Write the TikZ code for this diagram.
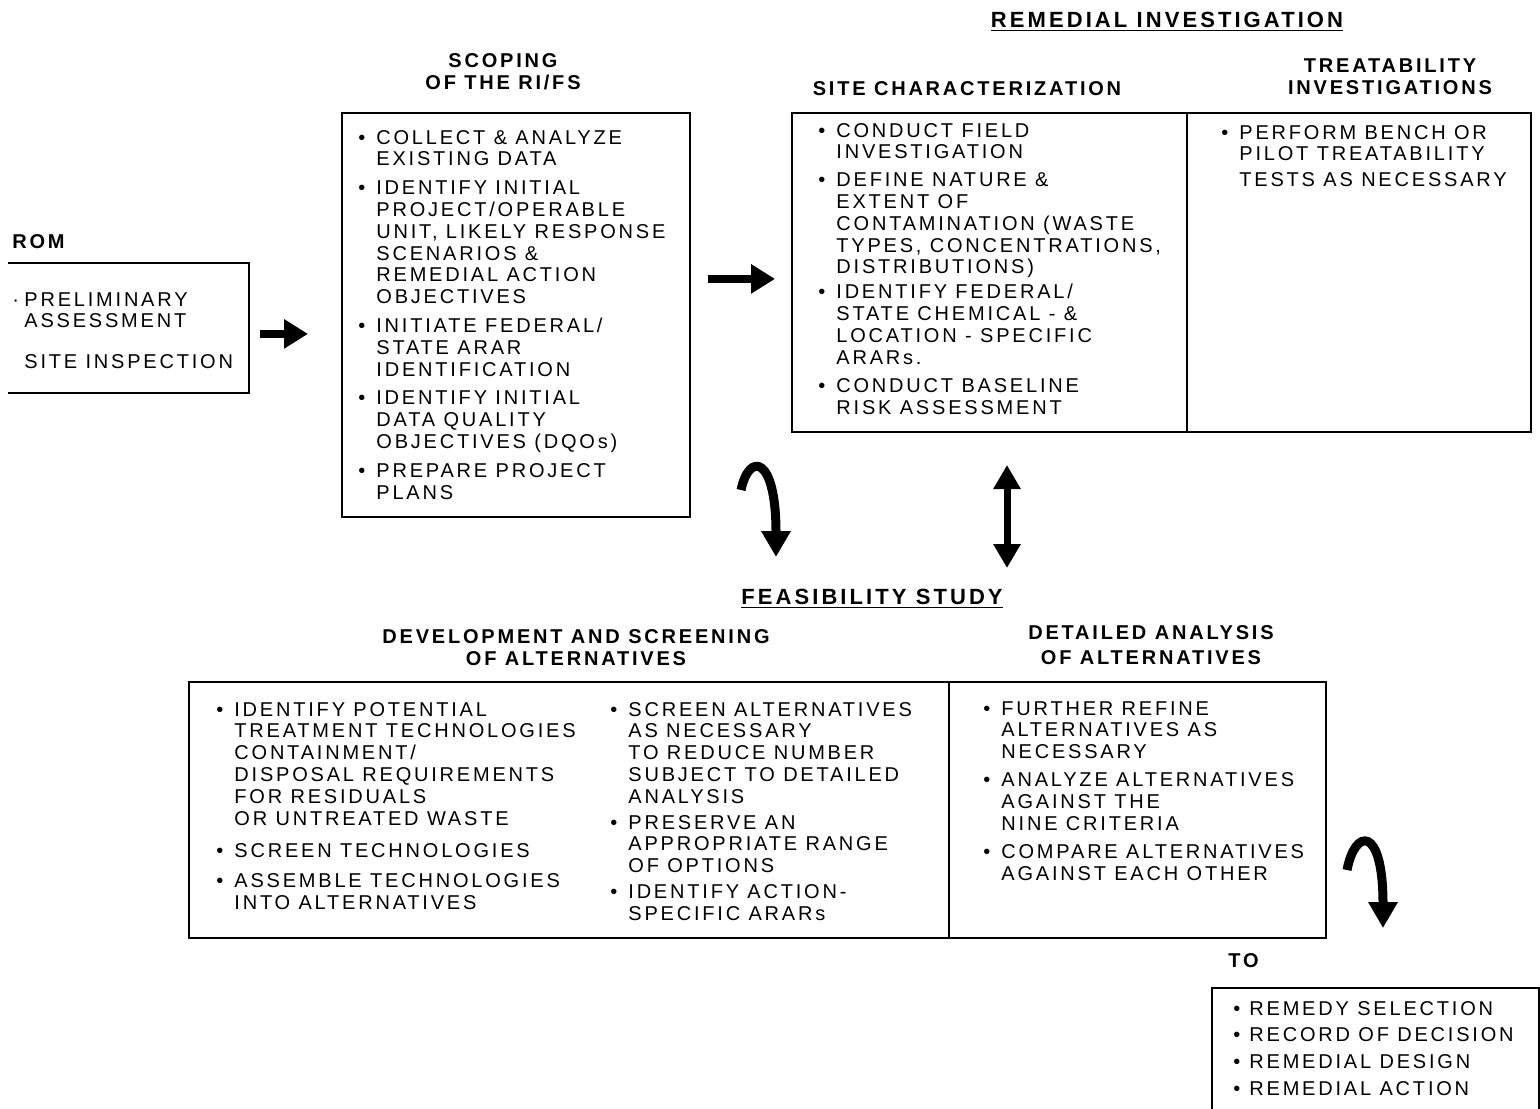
\documentclass[tikz,border=0pt]{standalone}
\usepackage{fontspec}
\setmainfont{Liberation Sans}[LetterSpace=14]
\usetikzlibrary{arrows.meta,calc}
\tikzset{>=Stealth}
\tikzset{
  box/.style={draw,line width=0.9pt,anchor=north west,inner sep=0pt},
  txt/.style={anchor=base west,inner sep=0pt,font=\fontsize{10}{10.9}\selectfont},
  hdr/.style={anchor=base,inner sep=0pt,font=\fontsize{10}{11}\selectfont\bfseries},
  fat/.style={line width=4pt,-{Triangle[length=12pt,width=14pt]}},
  hook/.style={line width=4.5pt,-{Triangle[length=13pt,width=14pt]}},
}
\newcommand*{\bu}{\makebox[9pt][l]{\textbullet}}
\newcommand{\lst}[1]{\begin{tabular}[t]{@{}l@{}l@{}}#1\end{tabular}}
\newcommand{\hd}[1]{\begin{tabular}[t]{@{}c@{}}#1\end{tabular}}

\begin{document}
\begin{tikzpicture}[x=0.5pt,y=-0.5pt]
\useasboundingbox (0,0) rectangle (1540,1108);
% headings
\node[hdr,font=\fontsize{11}{12}\selectfont\bfseries] (rihd) at (1167,27) {\underline{REMEDIAL INVESTIGATION}};
\node[hdr] (scopehd) at (503,67) {\hd{SCOPING\\OF THE RI/FS}};
\node[hdr] (sitehd) at (967,95) {SITE CHARACTERIZATION};
\node[hdr] (treathd) at (1390,72) {\hd{TREATABILITY\\INVESTIGATIONS}};
\node[hdr,anchor=base west] (romhd) at (12,248) {ROM};
\node[hdr,font=\fontsize{11}{12}\selectfont\bfseries] (fshd) at (872,604) {\underline{FEASIBILITY STUDY}};
\node[hdr] (devhd) at (576,643) {\hd{DEVELOPMENT AND SCREENING\\OF ALTERNATIVES}};
\node[hdr] (dethd) at (1151,639) {\hd{DETAILED ANALYSIS\\[1.5pt]OF ALTERNATIVES}};
\node[hdr,anchor=base west] (tohd) at (1228,967) {TO};
% boxes
\node[box,draw=none,minimum width=119.5pt,minimum height=64pt] (rom) at (8,263) {};
\draw[line width=0.9pt] (rom.north west) -- (rom.north east) -- (rom.south east) -- (rom.south west);
\node[box,minimum width=174pt,minimum height=202pt] (scope) at (341,112) {};
\node[box,minimum width=369.5pt,minimum height=159.5pt] (ri) at (791,112) {};
\draw[line width=0.9pt] ($(ri.north west)+(396,0)$) -- ($(ri.south west)+(396,0)$);
\node[box,minimum width=568.5pt,minimum height=128pt] (fs) at (188,681) {};
\draw[line width=0.9pt] ($(fs.north west)+(761,0)$) -- ($(fs.south west)+(761,0)$);
\node[box,draw=none,minimum width=162.5pt,minimum height=60pt] (to) at (1212,988) {};
\draw[line width=0.9pt] (to.south west) -- (to.north west) -- (to.north east) -- (to.south east);
% texts
\node[txt] (romtx) at (12,306) {\lst{\makebox[6pt][l]{\textperiodcentered} & PRELIMINARY\\ & ASSESSMENT\\[9.5pt] & SITE INSPECTION}};
\node[txt] (scopetx) at (358,144) {\lst{
\bu & COLLECT \& ANALYZE\\ & EXISTING DATA\\[3.5pt]
\bu & IDENTIFY INITIAL\\ & PROJECT/OPERABLE\\ & UNIT, LIKELY RESPONSE\\ & SCENARIOS \&\\ & REMEDIAL ACTION\\ & OBJECTIVES\\[3.5pt]
\bu & INITIATE FEDERAL/\\ & STATE ARAR\\ & IDENTIFICATION\\[3.5pt]
\bu & IDENTIFY INITIAL\\ & DATA QUALITY\\ & OBJECTIVES (DQOs)\\[3.5pt]
\bu & PREPARE PROJECT\\ & PLANS}};
\node[txt] (sitetx) at (818,137) {\lst{
\bu & CONDUCT FIELD\\ & INVESTIGATION\\[3pt]
\bu & DEFINE NATURE \&\\ & EXTENT OF\\ & CONTAMINATION (WASTE\\ & TYPES, CONCENTRATIONS,\\ & DISTRIBUTIONS)\\[1.5pt]
\bu & IDENTIFY FEDERAL/\\ & STATE CHEMICAL - \&\\ & LOCATION - SPECIFIC\\ & ARARs.\\[3.5pt]
\bu & CONDUCT BASELINE\\ & RISK ASSESSMENT}};
\node[txt] (treattx) at (1221,139) {\lst{
\bu & PERFORM BENCH OR\\ & PILOT TREATABILITY\\[2pt] & TESTS AS NECESSARY}};
\node[txt] (devtxa) at (216,716) {\lst{
\bu & IDENTIFY POTENTIAL\\ & TREATMENT TECHNOLOGIES\\ & CONTAINMENT/\\ & DISPOSAL REQUIREMENTS\\ & FOR RESIDUALS\\ & OR UNTREATED WASTE\\[5.5pt]
\bu & SCREEN TECHNOLOGIES\\[4pt]
\bu & ASSEMBLE TECHNOLOGIES\\ & INTO ALTERNATIVES}};
\node[txt] (devtxb) at (610,716) {\lst{
\bu & SCREEN ALTERNATIVES\\ & AS NECESSARY\\ & TO REDUCE NUMBER\\ & SUBJECT TO DETAILED\\ & ANALYSIS\\[2pt]
\bu & PRESERVE AN\\ & APPROPRIATE RANGE\\ & OF OPTIONS\\[2pt]
\bu & IDENTIFY ACTION-\\ & SPECIFIC ARARs}};
\node[txt] (dettx) at (983,715) {\lst{
\bu & FURTHER REFINE\\ & ALTERNATIVES AS\\ & NECESSARY\\[3pt]
\bu & ANALYZE ALTERNATIVES\\ & AGAINST THE\\ & NINE CRITERIA\\[3.5pt]
\bu & COMPARE ALTERNATIVES\\ & AGAINST EACH OTHER}};
\node[txt] (totx) at (1233,1015) {\lst{
\makebox[8pt][l]{\textbullet} & REMEDY SELECTION\\[2.5pt]
\makebox[8pt][l]{\textbullet} & RECORD OF DECISION\\[2.5pt]
\makebox[8pt][l]{\textbullet} & REMEDIAL DESIGN\\[2.5pt]
\makebox[8pt][l]{\textbullet} & REMEDIAL ACTION}};
% arrows
\draw[fat] ($(rom.east)+(11,6)$) -- ($(scope.west)+(-33,19)$);
\draw[fat] ($(scope.east)+(17,-36)$) -- ($(ri.west)+(-16,6.5)$);
\coordinate (hkA) at (741,490);
\coordinate (hkB) at (776,557);
\draw[hook] (hkA) .. controls (749,452) and (776,455) .. (hkB);
\coordinate (dbA) at (1007,465);
\coordinate (dbB) at (1007,568);
\draw[line width=3.5pt,{Triangle[length=12pt,width=13pt]}-{Triangle[length=12pt,width=13pt]}] (dbA) -- (dbB);
\coordinate (hkC) at (1347,870);
\coordinate (hkD) at (1383,928);
\draw[hook] (hkC) .. controls (1355,828) and (1383,825) .. (hkD);
\end{tikzpicture}
\end{document}
